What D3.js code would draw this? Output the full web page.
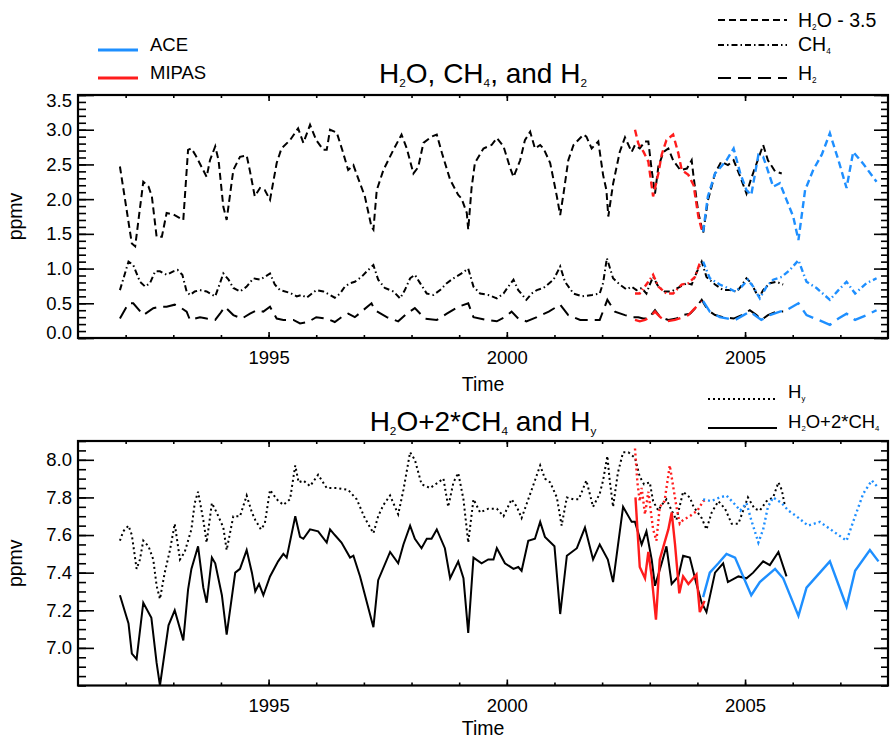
<!DOCTYPE html>
<style>
body { margin: 0; background: #fff; }
svg { font-family: "Liberation Sans", Arial, Helvetica, sans-serif; }
.domain { display: none; }
</style>
<svg width="891" height="740"></svg>
<script src="https://cdn.jsdelivr.net/npm/d3@7"></script>
<script>

// ---- data: [decimal year, ppmv] ----
var h2oBlack = [[1991.88,2.47],[1992.13,1.36],[1992.20,1.32],[1992.37,2.25],[1992.48,2.18],[1992.55,2.04],[1992.65,1.46],[1992.76,1.46],[1992.86,1.80],[1993.00,1.78],[1993.21,1.70],[1993.31,2.71],[1993.38,2.73],[1993.47,2.63],[1993.70,2.32],[1993.77,2.56],[1993.88,2.76],[1993.95,2.56],[1994.05,1.89],[1994.12,1.70],[1994.26,2.42],[1994.40,2.61],[1994.54,2.63],[1994.61,2.40],[1994.71,2.04],[1994.82,2.16],[1994.92,2.13],[1995.03,1.99],[1995.17,2.52],[1995.27,2.73],[1995.45,2.85],[1995.62,3.02],[1995.73,2.81],[1995.87,3.07],[1996.00,2.85],[1996.15,2.71],[1996.22,2.71],[1996.29,3.00],[1996.43,2.96],[1996.55,2.70],[1996.67,2.42],[1996.78,2.49],[1996.88,2.30],[1997.02,2.04],[1997.16,1.60],[1997.20,1.56],[1997.27,2.13],[1997.41,2.42],[1997.62,2.71],[1997.79,2.93],[1997.90,2.73],[1998.04,2.37],[1998.14,2.46],[1998.25,2.81],[1998.42,2.90],[1998.53,2.93],[1998.64,2.66],[1998.81,2.28],[1998.98,2.06],[1999.05,2.01],[1999.16,1.80],[1999.19,1.56],[1999.26,2.16],[1999.33,2.52],[1999.51,2.73],[1999.68,2.78],[1999.79,2.88],[1999.93,2.76],[2000.07,2.45],[2000.14,2.32],[2000.28,2.56],[2000.38,2.85],[2000.49,2.97],[2000.59,2.73],[2000.70,2.78],[2000.77,2.73],[2000.91,2.52],[2001.05,2.04],[2001.12,1.77],[2001.19,2.08],[2001.29,2.56],[2001.40,2.78],[2001.61,2.93],[2001.67,2.90],[2001.78,2.73],[2001.92,2.83],[2002.02,2.35],[2002.09,2.13],[2002.13,1.75],[2002.23,2.22],[2002.37,2.68],[2002.48,2.89],[2002.62,2.68],[2002.69,2.78],[2002.79,2.73],[2002.90,2.83],[2002.97,2.83],[2003.04,2.42],[2003.11,2.08],[2003.18,2.47],[2003.29,2.68],[2003.39,2.73],[2003.49,2.56],[2003.64,2.42],[2003.78,2.44],[2003.88,2.56],[2003.92,2.32],[2004.02,1.80],[2004.12,1.51],[2004.22,1.98],[2004.37,2.37],[2004.50,2.54],[2004.64,2.49],[2004.76,2.56],[2004.90,2.32],[2005.03,2.08],[2005.13,2.30],[2005.24,2.51],[2005.38,2.78],[2005.48,2.56],[2005.63,2.40],[2005.77,2.37]];
var h2oMipas = [[2002.69,3.00],[2002.76,2.80],[2002.87,2.68],[2002.97,2.54],[2003.07,2.04],[2003.18,2.37],[2003.25,2.64],[2003.35,2.85],[2003.49,2.93],[2003.60,2.66],[2003.67,2.42],[2003.81,2.35],[2003.92,2.20],[2004.02,1.75],[2004.09,1.56]];
var h2oAce = [[2004.12,1.53],[2004.22,2.04],[2004.37,2.37],[2004.50,2.47],[2004.61,2.56],[2004.76,2.73],[2004.90,2.37],[2005.03,2.13],[2005.13,2.06],[2005.28,2.64],[2005.38,2.61],[2005.45,2.47],[2005.59,2.18],[2005.73,2.23],[2005.87,1.99],[2006.01,1.75],[2006.12,1.41],[2006.26,2.13],[2006.43,2.42],[2006.61,2.64],[2006.78,2.95],[2006.96,2.56],[2007.13,2.16],[2007.27,2.68],[2007.48,2.51],[2007.76,2.25]];

var ch4Black = [[1991.88,0.69],[1992.06,1.10],[1992.16,1.05],[1992.30,0.81],[1992.41,0.74],[1992.51,0.79],[1992.62,0.96],[1992.72,0.96],[1992.86,0.91],[1993.00,0.96],[1993.09,0.98],[1993.19,0.91],[1993.28,0.67],[1993.35,0.62],[1993.45,0.67],[1993.56,0.69],[1993.70,0.67],[1993.88,0.60],[1993.98,0.79],[1994.05,0.93],[1994.16,0.84],[1994.26,0.72],[1994.40,0.67],[1994.54,0.74],[1994.68,0.86],[1994.82,0.84],[1994.92,0.88],[1995.03,0.93],[1995.13,0.77],[1995.24,0.69],[1995.45,0.65],[1995.59,0.60],[1995.69,0.62],[1995.80,0.58],[1996.00,0.69],[1996.15,0.67],[1996.29,0.62],[1996.39,0.58],[1996.50,0.64],[1996.60,0.74],[1996.71,0.79],[1996.81,0.81],[1996.95,0.88],[1997.09,0.98],[1997.20,1.05],[1997.30,0.84],[1997.44,0.72],[1997.62,0.67],[1997.76,0.57],[1997.86,0.69],[1997.97,0.86],[1998.07,0.91],[1998.18,0.79],[1998.32,0.64],[1998.46,0.62],[1998.60,0.69],[1998.74,0.79],[1998.88,0.86],[1999.05,0.93],[1999.19,1.00],[1999.30,0.74],[1999.44,0.64],[1999.61,0.62],[1999.79,0.57],[1999.93,0.64],[2000.03,0.74],[2000.14,0.84],[2000.24,0.69],[2000.41,0.55],[2000.52,0.64],[2000.63,0.69],[2000.77,0.72],[2000.98,0.84],[2001.12,1.03],[2001.22,0.81],[2001.40,0.64],[2001.58,0.60],[2001.79,0.62],[2001.95,0.64],[2002.02,0.79],[2002.10,1.15],[2002.23,0.86],[2002.37,0.77],[2002.51,0.70],[2002.62,0.74],[2002.72,0.69],[2002.83,0.72],[2002.93,0.64],[2003.00,0.77],[2003.07,0.88],[2003.18,0.74],[2003.31,0.67],[2003.46,0.67],[2003.64,0.74],[2003.78,0.79],[2003.88,0.77],[2003.98,0.94],[2004.09,1.10],[2004.19,0.88],[2004.37,0.77],[2004.54,0.69],[2004.68,0.69],[2004.83,0.67],[2004.93,0.76],[2005.03,0.86],[2005.13,0.79],[2005.24,0.64],[2005.31,0.60],[2005.38,0.69],[2005.52,0.79],[2005.66,0.81],[2005.80,0.77]];
var ch4Mipas = [[2002.69,0.64],[2002.79,0.64],[2002.97,0.81],[2003.07,0.91],[2003.18,0.74],[2003.35,0.64],[2003.49,0.64],[2003.67,0.77],[2003.81,0.79],[2003.95,0.88],[2004.05,1.08]];
var ch4Ace = [[2004.12,1.10],[2004.26,0.86],[2004.47,0.77],[2004.64,0.72],[2004.79,0.67],[2004.93,0.74],[2005.06,0.84],[2005.17,0.74],[2005.31,0.57],[2005.45,0.74],[2005.59,0.84],[2005.77,0.88],[2005.94,0.98],[2006.12,1.12],[2006.29,0.81],[2006.50,0.72],[2006.78,0.55],[2006.96,0.69],[2007.13,0.81],[2007.31,0.64],[2007.55,0.79],[2007.76,0.86]];

var h2Black = [[1991.88,0.28],[1992.06,0.50],[1992.16,0.50],[1992.37,0.33],[1992.58,0.43],[1992.72,0.45],[1992.86,0.45],[1993.03,0.48],[1993.17,0.43],[1993.28,0.38],[1993.35,0.26],[1993.56,0.30],[1993.70,0.28],[1993.88,0.26],[1993.98,0.35],[1994.08,0.45],[1994.26,0.33],[1994.44,0.28],[1994.61,0.35],[1994.75,0.40],[1994.89,0.38],[1995.03,0.45],[1995.17,0.28],[1995.31,0.26],[1995.52,0.26],[1995.66,0.21],[1995.83,0.23],[1996.00,0.30],[1996.22,0.28],[1996.39,0.23],[1996.53,0.30],[1996.67,0.35],[1996.81,0.30],[1996.95,0.38],[1997.16,0.50],[1997.23,0.40],[1997.48,0.30],[1997.72,0.24],[1997.90,0.35],[1998.07,0.43],[1998.28,0.28],[1998.53,0.26],[1998.74,0.35],[1998.98,0.45],[1999.19,0.50],[1999.30,0.30],[1999.58,0.26],[1999.79,0.24],[1999.96,0.30],[2000.10,0.38],[2000.24,0.28],[2000.41,0.24],[2000.63,0.30],[2000.88,0.38],[2001.12,0.48],[2001.29,0.33],[2001.54,0.26],[2001.75,0.26],[2001.95,0.26],[2002.11,0.55],[2002.27,0.38],[2002.48,0.33],[2002.62,0.30],[2002.76,0.30],[2002.86,0.28],[2002.97,0.28],[2003.11,0.40],[2003.22,0.30],[2003.39,0.26],[2003.56,0.28],[2003.70,0.33],[2003.85,0.35],[2003.98,0.45],[2004.09,0.55],[2004.22,0.40],[2004.37,0.33],[2004.54,0.30],[2004.76,0.28],[2004.93,0.33],[2005.10,0.40],[2005.24,0.33],[2005.34,0.26],[2005.48,0.33],[2005.66,0.38],[2005.80,0.38]];
var h2Mipas = [[2002.69,0.26],[2002.79,0.24],[2002.90,0.26],[2003.00,0.30],[2003.11,0.38],[2003.22,0.30],[2003.35,0.24],[2003.53,0.26],[2003.70,0.30],[2003.81,0.33],[2003.95,0.43],[2004.09,0.53]];
var h2Ace = [[2004.12,0.53],[2004.26,0.38],[2004.47,0.30],[2004.64,0.28],[2004.79,0.26],[2004.97,0.33],[2005.10,0.38],[2005.20,0.33],[2005.34,0.26],[2005.52,0.33],[2005.73,0.38],[2005.87,0.40],[2006.12,0.50],[2006.29,0.33],[2006.54,0.26],[2006.78,0.19],[2006.96,0.28],[2007.13,0.35],[2007.31,0.26],[2007.55,0.33],[2007.76,0.40]];

var hyBlack = [[1991.88,7.57],[1991.95,7.62],[1992.06,7.65],[1992.13,7.60],[1992.23,7.42],[1992.30,7.47],[1992.37,7.57],[1992.48,7.54],[1992.58,7.47],[1992.65,7.33],[1992.72,7.26],[1992.82,7.40],[1992.93,7.52],[1993.03,7.66],[1993.14,7.47],[1993.24,7.51],[1993.38,7.63],[1993.45,7.77],[1993.52,7.83],[1993.63,7.68],[1993.70,7.56],[1993.81,7.77],[1993.91,7.72],[1994.05,7.64],[1994.12,7.52],[1994.26,7.70],[1994.40,7.70],[1994.54,7.81],[1994.65,7.72],[1994.72,7.68],[1994.84,7.63],[1994.92,7.66],[1995.03,7.84],[1995.17,7.79],[1995.31,7.76],[1995.45,7.79],[1995.56,7.97],[1995.63,7.88],[1995.73,7.89],[1995.87,7.86],[1996.04,7.92],[1996.22,7.85],[1996.43,7.85],[1996.67,7.84],[1996.85,7.79],[1997.02,7.69],[1997.20,7.61],[1997.30,7.70],[1997.41,7.76],[1997.55,7.81],[1997.72,7.71],[1997.83,7.84],[1997.97,8.04],[1998.07,8.00],[1998.21,7.87],[1998.39,7.85],[1998.56,7.88],[1998.67,7.90],[1998.77,7.75],[1998.88,7.88],[1998.98,7.93],[1999.09,7.79],[1999.19,7.56],[1999.30,7.79],[1999.44,7.72],[1999.61,7.74],[1999.79,7.74],[1999.93,7.70],[2000.10,7.79],[2000.21,7.75],[2000.31,7.69],[2000.45,7.79],[2000.59,7.89],[2000.70,7.97],[2000.80,7.90],[2000.91,7.88],[2001.05,7.80],[2001.15,7.65],[2001.26,7.80],[2001.40,7.79],[2001.51,7.79],[2001.67,7.89],[2001.81,7.75],[2001.95,7.82],[2002.02,7.89],[2002.11,8.02],[2002.16,7.89],[2002.23,7.75],[2002.33,7.93],[2002.44,8.04],[2002.55,8.04],[2002.69,8.01],[2002.79,7.91],[2002.88,7.87],[2003.00,7.88],[2003.07,7.78],[2003.18,7.73],[2003.25,7.76],[2003.35,7.79],[2003.46,7.73],[2003.56,7.68],[2003.70,7.83],[2003.84,7.80],[2003.92,7.75],[2004.09,7.69],[2004.19,7.63],[2004.30,7.72],[2004.44,7.78],[2004.58,7.74],[2004.72,7.66],[2004.86,7.66],[2005.06,7.80],[2005.20,7.74],[2005.31,7.73],[2005.45,7.78],[2005.59,7.80],[2005.70,7.88],[2005.77,7.84],[2005.84,7.75]];
var hyMipas = [[2002.69,8.06],[2002.74,7.88],[2002.79,7.78],[2002.83,7.85],[2002.90,7.71],[2002.97,7.83],[2003.07,7.63],[2003.14,7.57],[2003.21,7.75],[2003.31,7.78],[2003.42,7.97],[2003.49,7.86],[2003.56,7.75],[2003.63,7.66],[2003.70,7.68],[2003.84,7.70],[2004.00,7.73],[2004.12,7.78],[2004.19,7.79]];
var hyAce = [[2004.12,7.79],[2004.29,7.78],[2004.47,7.80],[2004.61,7.81],[2004.76,7.77],[2004.90,7.73],[2005.03,7.77],[2005.13,7.68],[2005.28,7.56],[2005.38,7.63],[2005.48,7.75],[2005.59,7.80],[2005.77,7.77],[2005.91,7.73],[2006.08,7.70],[2006.32,7.65],[2006.57,7.67],[2006.85,7.62],[2007.13,7.57],[2007.31,7.70],[2007.48,7.82],[2007.66,7.89],[2007.80,7.85]];

var sumBlack = [[1991.88,7.28],[1992.06,7.13],[1992.13,6.97],[1992.23,6.94],[1992.37,7.24],[1992.54,7.16],[1992.65,6.92],[1992.72,6.80],[1992.90,7.12],[1993.03,7.20],[1993.21,7.04],[1993.31,7.31],[1993.38,7.42],[1993.52,7.54],[1993.63,7.32],[1993.70,7.24],[1993.81,7.48],[1993.88,7.45],[1994.02,7.28],[1994.12,7.07],[1994.30,7.40],[1994.40,7.42],[1994.54,7.52],[1994.65,7.40],[1994.72,7.30],[1994.80,7.34],[1994.89,7.28],[1995.03,7.38],[1995.20,7.46],[1995.31,7.50],[1995.38,7.48],[1995.56,7.70],[1995.66,7.59],[1995.73,7.58],[1995.87,7.63],[1996.04,7.62],[1996.22,7.56],[1996.29,7.63],[1996.39,7.60],[1996.53,7.56],[1996.71,7.48],[1996.78,7.49],[1996.92,7.38],[1997.20,7.11],[1997.30,7.36],[1997.55,7.51],[1997.72,7.45],[1997.83,7.55],[1997.97,7.65],[1998.07,7.58],[1998.21,7.53],[1998.32,7.58],[1998.42,7.58],[1998.53,7.63],[1998.70,7.53],[1998.81,7.37],[1998.98,7.46],[1999.09,7.37],[1999.19,7.08],[1999.30,7.48],[1999.47,7.45],[1999.61,7.47],[1999.72,7.47],[1999.79,7.53],[1999.96,7.45],[2000.14,7.42],[2000.24,7.43],[2000.31,7.41],[2000.45,7.57],[2000.59,7.58],[2000.70,7.67],[2000.80,7.59],[2001.00,7.54],[2001.12,7.18],[2001.26,7.49],[2001.47,7.53],[2001.64,7.64],[2001.81,7.47],[2001.95,7.55],[2002.12,7.47],[2002.23,7.35],[2002.44,7.75],[2002.62,7.67],[2002.69,7.67],[2002.83,7.55],[2002.93,7.62],[2003.04,7.47],[2003.11,7.33],[2003.25,7.45],[2003.35,7.54],[2003.46,7.34],[2003.60,7.38],[2003.70,7.49],[2003.84,7.48],[2003.98,7.34],[2004.09,7.24],[2004.19,7.19],[2004.37,7.40],[2004.54,7.45],[2004.64,7.35],[2004.86,7.38],[2005.03,7.37],[2005.17,7.40],[2005.38,7.46],[2005.52,7.44],[2005.70,7.51],[2005.87,7.38]];
var sumMipas = [[2002.70,7.80],[2002.79,7.43],[2002.90,7.37],[2002.97,7.51],[2003.04,7.38],[2003.13,7.15],[2003.21,7.47],[2003.31,7.56],[2003.39,7.63],[2003.46,7.72],[2003.53,7.55],[2003.62,7.29],[2003.70,7.38],[2003.81,7.34],[2003.98,7.39],[2004.05,7.19],[2004.15,7.25]];
var sumAce = [[2004.12,7.27],[2004.26,7.40],[2004.44,7.45],[2004.61,7.50],[2004.79,7.48],[2005.13,7.28],[2005.31,7.35],[2005.63,7.42],[2005.80,7.37],[2006.12,7.17],[2006.29,7.32],[2006.78,7.46],[2007.13,7.22],[2007.31,7.41],[2007.62,7.52],[2007.80,7.46]];

var yearMajor = [1995, 2000, 2005];
var yearMinor = d3.range(1992, 2008);
var topMajor = [0, 0.5, 1, 1.5, 2, 2.5, 3, 3.5];
var botMajor = [7.0, 7.2, 7.4, 7.6, 7.8, 8.0];

var BLUE = "#1e8fff", RED = "#ff1c1c";
var DASH = "7,4", DASHDOT = "6,3,1.5,3", LONGDASH = "13,7", DOT = "2,3";

var svg = d3.select("svg");
var x = d3.scaleLinear().domain([1991, 2008]).range([78, 888]);
var yTop = d3.scaleLinear().domain([0, 3.5]).range([338, 95]);
var yBot = d3.scaleLinear().domain([6.8, 8.1]).range([685.5, 441]);

// text with IDL style subscripts: "H_2O"
function rich(sel, str, size) {
  var t = sel.append("text").attr("font-size", size);
  var parts = str.split(/(_.)/), shift = 0;
  parts.forEach(function(p) {
    if (!p) return;
    var sp = t.append("tspan");
    if (p[0] === "_") {
      sp.attr("font-size", size * 0.42).attr("dy", size * 0.16 - shift).text(p[1]);
      shift = size * 0.16;
    } else {
      if (shift) sp.attr("dy", -shift);
      shift = 0;
      sp.text(p);
    }
  });
  return t;
}

function frame(y, majors, minorStep, fmt, labelNudge) {
  var r = y.range(), d = y.domain();
  var minors = d3.range(Math.ceil(d[0] / minorStep - 1e-6), Math.floor(d[1] / minorStep + 1e-6) + 1)
      .map(function(i) { return +(i * minorStep).toFixed(3); });
  var g = svg.append("g");

  g.append("g").attr("transform", "translate(78,0)")
      .call(d3.axisLeft(y).tickValues(minors).tickFormat("").tickSizeInner(-8).tickSizeOuter(0));
  var la = g.append("g").attr("transform", "translate(78,0)")
      .call(d3.axisLeft(y).tickValues(majors).tickFormat(fmt).tickSizeInner(-16).tickSizeOuter(0).tickPadding(6));
  la.selectAll("text").attr("font-size", 18.5)
      .attr("dy", function(v) { return labelNudge(v); });
  la.attr("font-family", null);

  g.append("g").attr("transform", "translate(888,0)")
      .call(d3.axisRight(y).tickValues(minors).tickFormat("").tickSizeInner(-7).tickSizeOuter(0));
  g.append("g").attr("transform", "translate(888,0)")
      .call(d3.axisRight(y).tickValues(majors).tickFormat("").tickSizeInner(-14).tickSizeOuter(0));

  g.append("g").attr("transform", "translate(0," + r[0] + ")")
      .call(d3.axisBottom(x).tickValues(yearMinor).tickFormat("").tickSizeInner(-3).tickSizeOuter(0));
  var ba = g.append("g").attr("transform", "translate(0," + r[0] + ")")
      .call(d3.axisBottom(x).tickValues(yearMajor).tickFormat(d3.format("d")).tickSizeInner(-6).tickSizeOuter(0).tickPadding(13));
  ba.attr("font-family", null).selectAll("text").attr("font-size", 18.5);
  g.append("g").attr("transform", "translate(0," + r[1] + ")")
      .call(d3.axisTop(x).tickValues(yearMinor).tickFormat("").tickSizeInner(-3).tickSizeOuter(0));
  g.append("g").attr("transform", "translate(0," + r[1] + ")")
      .call(d3.axisTop(x).tickValues(yearMajor).tickFormat("").tickSizeInner(-6).tickSizeOuter(0));

  g.selectAll(".tick line").attr("stroke-width", 1.6);

  g.append("rect")
      .attr("x", 78).attr("y", r[1])
      .attr("width", 810).attr("height", r[0] - r[1])
      .attr("fill", "none").attr("stroke", "#000").attr("stroke-width", 2.2);

  g.append("text")
      .attr("transform", "translate(22," + (r[0] + r[1]) / 2 + ") rotate(-90)")
      .attr("text-anchor", "middle").attr("font-size", 19.5).text("ppmv");
}

function series(y, data, color, dash, width) {
  var line = d3.line().x(function(d) { return x(d[0]); }).y(function(d) { return y(d[1]); });
  svg.append("path").datum(data)
      .attr("d", line).attr("fill", "none")
      .attr("stroke", color).attr("stroke-width", width || 2)
      .attr("stroke-dasharray", dash);
}

// ---- top panel ----
frame(yTop, topMajor, 0.1, d3.format(".1f"), function(v) {
  return v === 3.5 ? "0.62em" : (v === 0 ? "0.05em" : "0.32em");
});
[[h2oBlack, "#000"], [h2oMipas, RED], [h2oAce, BLUE]].forEach(function(s) {
  series(yTop, s[0], s[1], DASH, s[1] === "#000" ? 2 : 2.4); });
[[ch4Black, "#000"], [ch4Mipas, RED], [ch4Ace, BLUE]].forEach(function(s) {
  series(yTop, s[0], s[1], DASHDOT, s[1] === "#000" ? 2 : 2.4); });
[[h2Black, "#000"], [h2Mipas, RED], [h2Ace, BLUE]].forEach(function(s) {
  series(yTop, s[0], s[1], LONGDASH, s[1] === "#000" ? 2 : 2.4); });

rich(svg, "H_2O, CH_4, and H_2", 28).attr("x", 483).attr("y", 83).attr("text-anchor", "middle");
svg.append("text").attr("x", 483).attr("y", 391).attr("text-anchor", "middle").attr("font-size", 19.5).text("Time");

// ---- bottom panel ----
frame(yBot, botMajor, 0.05, d3.format(".1f"), function() { return "0.32em"; });
[[hyBlack, "#000"], [hyMipas, RED], [hyAce, BLUE]].forEach(function(s) {
  series(yBot, s[0], s[1], DOT, s[1] === "#000" ? 2 : 2.4); });
[[sumBlack, "#000"], [sumMipas, RED], [sumAce, BLUE]].forEach(function(s) {
  series(yBot, s[0], s[1], null, s[1] === "#000" ? 2 : 2.4); });

rich(svg, "H_2O+2*CH_4 and H_y", 28).attr("x", 483).attr("y", 431).attr("text-anchor", "middle");
svg.append("text").attr("x", 483).attr("y", 735).attr("text-anchor", "middle").attr("font-size", 19.5).text("Time");

// ---- legends ----
var instr = [["ACE", BLUE, 50], ["MIPAS", RED, 78]];
instr.forEach(function(d) {
  svg.append("line").attr("x1", 98).attr("x2", 138).attr("y1", d[2]).attr("y2", d[2])
      .attr("stroke", d[1]).attr("stroke-width", 3);
  svg.append("text").attr("x", 150).attr("y", d[2] + 1).attr("font-size", 18.5).text(d[0]);
});

// label, dash, line y, text baseline, line x start, font size
var styles = [["H_2O - 3.5", DASH, 20, 27, 718, 19.5], ["CH_4", DASHDOT, 45, 51, 718, 19.5], ["H_2", LONGDASH, 78, 80, 718, 19.5],
              ["H_y", DOT, 399, 398, 708, 18.5], ["H_2O+2*CH_4", null, 428, 428, 708, 18.5]];
styles.forEach(function(d) {
  svg.append("line").attr("x1", d[4]).attr("x2", d[4] + 69).attr("y1", d[2]).attr("y2", d[2])
      .attr("stroke", "#000").attr("stroke-width", 2).attr("stroke-dasharray", d[1]);
  rich(svg, d[0], d[5]).attr("x", d[4] + 80).attr("y", d[3]);
});

</script>
